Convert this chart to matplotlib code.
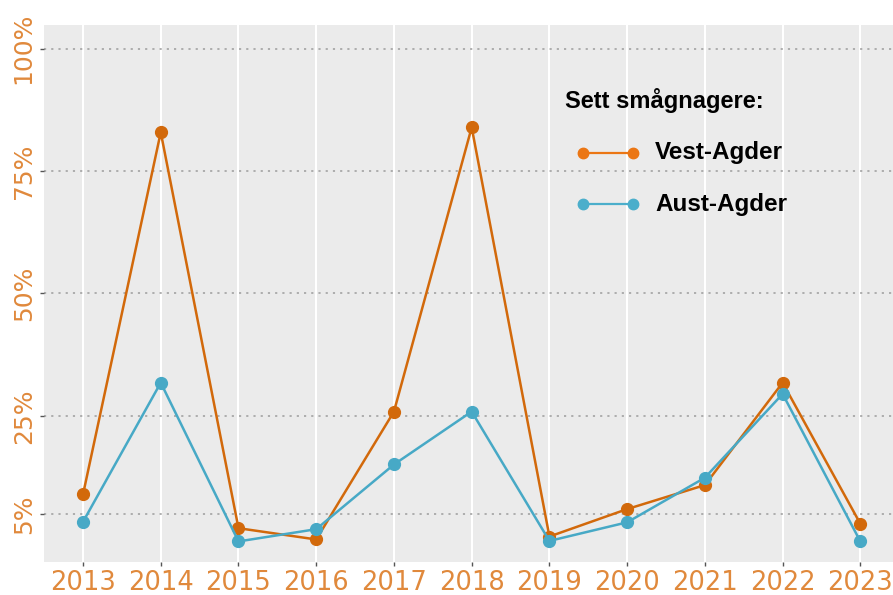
import numpy as np
import matplotlib
matplotlib.use("Agg")
import matplotlib.pyplot as plt
from matplotlib.lines import Line2D

# data
years = [2013, 2014, 2015, 2016, 2017, 2018, 2019, 2020, 2021, 2022, 2023]
vest_agder = [9.0, 82.9, 2.1, -0.2, 25.9, 83.9, 0.4, 6.0, 10.9, 31.8, 3.0]
aust_agder = [3.4, 31.8, -0.6, 1.9, 15.1, 25.9, -0.5, 3.3, 12.4, 29.5, -0.6]
ytick_vals = [5, 25, 50, 75, 100]
ytick_labels = ["5%", "25%", "50%", "75%", "100%"]
legend_title = "Sett smågnagere:"
series_names = ["Vest-Agder", "Aust-Agder"]

col_vest = "#D2690B"
col_aust = "#47A9C6"
col_vest_leg = "#EB7614"
col_aust_leg = "#4BAECB"
col_tick = "#E0893C"

fig = plt.figure(figsize=(8.93, 5.95), dpi=100)
ax = fig.add_axes([44 / 893, 1 - 562 / 595, 1 - 44 / 893, (562 - 25) / 595])
ax.set_facecolor("#EBEBEB")
for s in ax.spines.values():
    s.set_visible(False)

ax.set_xlim(2012.498, 2023.42)
ax.set_ylim(-4.8, 104.8)

ax.set_xticks(years)
ax.set_xticklabels([str(y) for y in years])
ax.set_yticks(ytick_vals)
ax.set_yticklabels(ytick_labels, rotation=90, va="center")

# grid: white verticals, dotted grey horizontals
for x in years:
    ax.axvline(x, color="white", lw=1.5, zorder=0)
for y in ytick_vals:
    ax.axhline(y, color="#A8A8A8", lw=1.3, ls=(0, (1.2, 2.8)), zorder=0.5)

ax.tick_params(axis="x", length=3, width=1, color="#555555", pad=3,
               labelsize=18.5, labelcolor=col_tick)
ax.tick_params(axis="y", length=3, width=1, color="#555555", pad=3,
               labelsize=18, labelcolor=col_tick)

ax.plot(years, vest_agder, color=col_vest, lw=1.8, marker="o", ms=8.5,
        zorder=3)
ax.plot(years, aust_agder, color=col_aust, lw=1.8, marker="o", ms=8.5,
        zorder=3)

# legend drawn by hand in figure pixels
W, H = 893, 595
bold = {"family": "Liberation Sans", "weight": "bold"}
fig.text(565 / W, 1 - 100 / H, legend_title, fontsize=17, va="center",
         ha="left", **bold)
for name, col, yy in zip(series_names, [col_vest_leg, col_aust_leg], [153, 204]):
    fig.add_artist(Line2D([583 / W, 633 / W], [1 - yy / H] * 2,
                          transform=fig.transFigure, color=col, lw=1.6,
                          marker="o", ms=7.5))
    fig.text(655 / W, 1 - yy / H, name, fontsize=17.5, va="center",
             ha="left", **bold)

fig.savefig("out.png", dpi=100)
